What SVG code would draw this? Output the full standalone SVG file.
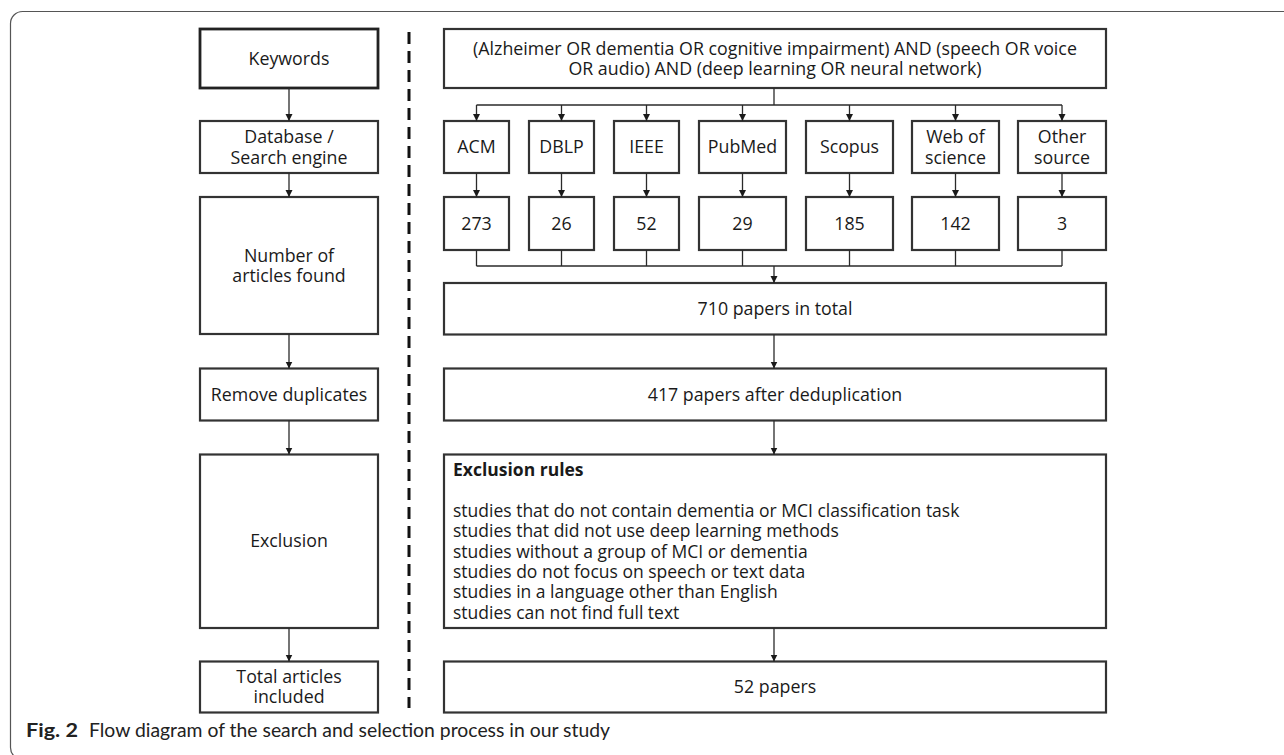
<svg xmlns="http://www.w3.org/2000/svg" width="1284" height="755" viewBox="0 0 1284 755">
<style>
  .box{fill:#fff;stroke:#333;stroke-width:2.2}
  .thick{stroke-width:2.8;stroke:#222}
  .t{font-family:"Open Sans","Noto Sans",sans-serif;font-size:17.8px;fill:#1a1a1a;text-anchor:middle}
  .tl{font-family:"Open Sans","Noto Sans",sans-serif;font-size:17.5px;fill:#1a1a1a}
  .b{font-weight:bold}
  .conn{fill:none;stroke:#2a2a2a;stroke-width:1.3}
  .cap{font-family:Lato,"Open Sans",sans-serif;font-size:19.5px;fill:#222}
</style>
<defs>
  <marker id="ah" markerUnits="userSpaceOnUse" markerWidth="8" markerHeight="8" refX="7" refY="3.5" orient="auto">
    <path d="M0,0 L7,3.5 L0,7 z" fill="#1a1a1a"/>
  </marker>
</defs>
<rect x="10.5" y="11.5" width="1290" height="748" rx="12" fill="none" stroke="#555" stroke-width="1.2"/>

<!-- dashed separator -->
<line x1="409" y1="32" x2="409" y2="708" stroke="#111" stroke-width="3" stroke-dasharray="12 7"/>

<!-- left column -->
<g id="keywords"><rect class="box thick" x="200" y="29" width="178" height="59"/><text class="t" x="289" y="64.5">Keywords</text></g>
<g id="database"><rect class="box" x="200" y="121" width="178" height="52"/><text class="t" x="289" y="143"><tspan x="289">Database /</tspan><tspan x="289" dy="21">Search engine</tspan></text></g>
<g id="number"><rect class="box" x="200" y="197" width="178" height="137"/><text class="t" x="289" y="262"><tspan x="289">Number of</tspan><tspan x="289" dy="20">articles found</tspan></text></g>
<g id="remove"><rect class="box" x="200" y="368.5" width="178" height="52"/><text class="t" x="289" y="400.5">Remove duplicates</text></g>
<g id="exclusion"><rect class="box" x="200" y="454.5" width="178" height="173.5"/><text class="t" x="289" y="547">Exclusion</text></g>
<g id="total"><rect class="box" x="200" y="661.5" width="178" height="51"/><text class="t" x="289" y="683"><tspan x="289">Total articles</tspan><tspan x="289" dy="20">included</tspan></text></g>

<!-- right column -->
<g id="query"><rect class="box" x="444" y="29" width="662" height="59"/><text class="t" x="775" y="54.5"><tspan x="775">(Alzheimer OR dementia OR cognitive impairment) AND (speech OR voice</tspan><tspan x="775" dy="20">OR audio) AND (deep learning OR neural network)</tspan></text></g>

<g id="src-acm"><rect class="box" x="444" y="121" width="65" height="52"/><text class="t" x="476.5" y="153">ACM</text></g>
<g id="src-dblp"><rect class="box" x="529" y="121" width="65" height="52"/><text class="t" x="561.5" y="153">DBLP</text></g>
<g id="src-ieee"><rect class="box" x="614" y="121" width="65" height="52"/><text class="t" x="646.5" y="153">IEEE</text></g>
<g id="src-pubmed"><rect class="box" x="699" y="121" width="87" height="52"/><text class="t" x="742.5" y="153">PubMed</text></g>
<g id="src-scopus"><rect class="box" x="806" y="121" width="87" height="52"/><text class="t" x="849.5" y="153">Scopus</text></g>
<g id="src-wos"><rect class="box" x="912" y="121" width="87" height="52"/><text class="t" x="955.5" y="143"><tspan x="955.5">Web of</tspan><tspan x="955.5" dy="21">science</tspan></text></g>
<g id="src-other"><rect class="box" x="1018" y="121" width="88" height="52"/><text class="t" x="1062" y="143"><tspan x="1062">Other</tspan><tspan x="1062" dy="21">source</tspan></text></g>

<g id="n-acm"><rect class="box" x="444" y="197" width="65" height="53"/><text class="t" x="476.5" y="229.5">273</text></g>
<g id="n-dblp"><rect class="box" x="529" y="197" width="65" height="53"/><text class="t" x="561.5" y="229.5">26</text></g>
<g id="n-ieee"><rect class="box" x="614" y="197" width="65" height="53"/><text class="t" x="646.5" y="229.5">52</text></g>
<g id="n-pubmed"><rect class="box" x="699" y="197" width="87" height="53"/><text class="t" x="742.5" y="229.5">29</text></g>
<g id="n-scopus"><rect class="box" x="806" y="197" width="87" height="53"/><text class="t" x="849.5" y="229.5">185</text></g>
<g id="n-wos"><rect class="box" x="912" y="197" width="87" height="53"/><text class="t" x="955.5" y="229.5">142</text></g>
<g id="n-other"><rect class="box" x="1018" y="197" width="88" height="53"/><text class="t" x="1062" y="229.5">3</text></g>

<g id="total710"><rect class="box" x="444" y="283" width="662" height="51.5"/><text class="t" x="775" y="315">710 papers in total</text></g>
<g id="dedup417"><rect class="box" x="444" y="368.5" width="662" height="52"/><text class="t" x="775" y="400.5">417 papers after deduplication</text></g>
<g id="rules"><rect class="box" x="444" y="454.5" width="662" height="173.5"/>
  <text class="tl b" x="453" y="476">Exclusion rules</text>
  <text class="tl" x="453" y="517"><tspan x="453">studies that do not contain dementia or MCI classification task</tspan><tspan x="453" dy="20.3">studies that did not use deep learning methods</tspan><tspan x="453" dy="20.3">studies without a group of MCI or dementia</tspan><tspan x="453" dy="20.3">studies do not focus on speech or text data</tspan><tspan x="453" dy="20.3">studies in a language other than English</tspan><tspan x="453" dy="20.3">studies can not find full text</tspan></text>
</g>
<g id="final52"><rect class="box" x="444" y="661.5" width="662" height="51"/><text class="t" x="775" y="693">52 papers</text></g>

<g id="connectors" class="conn">
  <line x1="289" y1="88" x2="289" y2="121" marker-end="url(#ah)"/>
  <line x1="289" y1="173" x2="289" y2="197" marker-end="url(#ah)"/>
  <line x1="289" y1="334" x2="289" y2="368.5" marker-end="url(#ah)"/>
  <line x1="289" y1="420.5" x2="289" y2="454.5" marker-end="url(#ah)"/>
  <line x1="289" y1="628" x2="289" y2="661.5" marker-end="url(#ah)"/>

  <polyline points="774,88 774,105"/>
  <line x1="476.5" y1="105" x2="1062" y2="105"/>
  <line x1="476.5" y1="105" x2="476.5" y2="121" marker-end="url(#ah)"/>
  <line x1="561.5" y1="105" x2="561.5" y2="121" marker-end="url(#ah)"/>
  <line x1="646.5" y1="105" x2="646.5" y2="121" marker-end="url(#ah)"/>
  <line x1="742.5" y1="105" x2="742.5" y2="121" marker-end="url(#ah)"/>
  <line x1="849.5" y1="105" x2="849.5" y2="121" marker-end="url(#ah)"/>
  <line x1="955.5" y1="105" x2="955.5" y2="121" marker-end="url(#ah)"/>
  <line x1="1062" y1="105" x2="1062" y2="121" marker-end="url(#ah)"/>

  <line x1="476.5" y1="173" x2="476.5" y2="197" marker-end="url(#ah)"/>
  <line x1="561.5" y1="173" x2="561.5" y2="197" marker-end="url(#ah)"/>
  <line x1="646.5" y1="173" x2="646.5" y2="197" marker-end="url(#ah)"/>
  <line x1="742.5" y1="173" x2="742.5" y2="197" marker-end="url(#ah)"/>
  <line x1="849.5" y1="173" x2="849.5" y2="197" marker-end="url(#ah)"/>
  <line x1="955.5" y1="173" x2="955.5" y2="197" marker-end="url(#ah)"/>
  <line x1="1062" y1="173" x2="1062" y2="197" marker-end="url(#ah)"/>

  <line x1="476.5" y1="250" x2="476.5" y2="266"/>
  <line x1="561.5" y1="250" x2="561.5" y2="266"/>
  <line x1="646.5" y1="250" x2="646.5" y2="266"/>
  <line x1="742.5" y1="250" x2="742.5" y2="266"/>
  <line x1="849.5" y1="250" x2="849.5" y2="266"/>
  <line x1="955.5" y1="250" x2="955.5" y2="266"/>
  <line x1="1062" y1="250" x2="1062" y2="266"/>
  <line x1="476.5" y1="266" x2="1062" y2="266"/>
  <line x1="774" y1="266" x2="774" y2="283" marker-end="url(#ah)"/>

  <line x1="774" y1="334.5" x2="774" y2="368.5" marker-end="url(#ah)"/>
  <line x1="774" y1="420.5" x2="774" y2="454.5" marker-end="url(#ah)"/>
  <line x1="774" y1="628" x2="774" y2="661.5" marker-end="url(#ah)"/>
</g>

<text class="cap b" x="26" y="737" textLength="52" lengthAdjust="spacingAndGlyphs">Fig. 2</text>
<text class="cap" x="89" y="737" textLength="521" lengthAdjust="spacingAndGlyphs">Flow diagram of the search and selection process in our study</text>
</svg>
